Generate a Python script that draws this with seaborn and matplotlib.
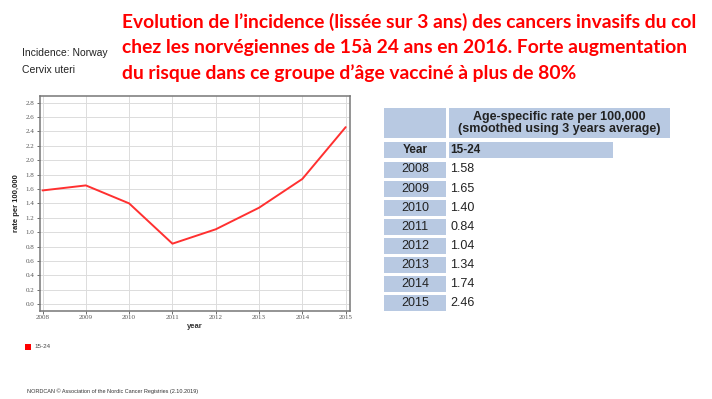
import matplotlib
matplotlib.use("Agg")
import matplotlib.pyplot as plt
import seaborn as sns
import pandas as pd
from matplotlib.patches import Rectangle

years = [2008, 2009, 2010, 2011, 2012, 2013, 2014, 2015]
rates = [1.58, 1.65, 1.40, 0.84, 1.04, 1.34, 1.74, 2.46]
yticks = [0.0, 0.2, 0.4, 0.6, 0.8, 1.0, 1.2, 1.4, 1.6, 1.8, 2.0, 2.2, 2.4, 2.6, 2.8]
series_name = "15-24"
title_lines = [
    "Evolution de l’incidence (lissée sur 3 ans) des cancers invasifs du col",
    "chez les norvégiennes de 15à 24 ans en 2016. Forte augmentation",
    "du risque dans ce groupe d’âge vacciné à plus de 80%",
]
table_header = "Age-specific rate per 100,000\n(smoothed using 3 years average)"

sns.set_theme(style="whitegrid")
plt.rcParams['font.family'] = ['Liberation Sans', 'DejaVu Sans']

W, H = 712, 399
fig = plt.figure(figsize=(W / 100, H / 100), dpi=100)
fig.patch.set_facecolor("white")

def fx(x):
    return x / W

def fy(y):
    return 1 - y / H

ax = fig.add_axes([fx(39.5), fy(310.5), fx(350) - fx(39.5), fy(96) - fy(310.5)])
df = pd.DataFrame({"year": years, "rate": rates, "group": series_name})
sns.lineplot(data=df, x="year", y="rate", color="#ff3030", linewidth=1.4, ax=ax, legend=False)
ax.set_xlim(2007.93, 2015.1)
ax.set_ylim(-0.089, 2.893)
ax.set_yticks(yticks)
ax.set_yticklabels([f"{v:.1f}" for v in yticks])
ax.set_xticks(years)
ax.set_xticklabels([str(y) for y in years])
ax.tick_params(axis="both", labelsize=5, colors="#555555", length=2, width=0.6, pad=1.5,
               left=True, bottom=True)
for lbl in ax.get_xticklabels() + ax.get_yticklabels():
    lbl.set_family(['Liberation Serif', 'DejaVu Serif'])
ax.grid(True, color="#dcdcdc", linewidth=0.7)
for s in ax.spines.values():
    s.set_color("#777777")
    s.set_linewidth(1.1)
ax.set_xlabel("year", fontsize=5.5, fontweight="bold", color="#333333", labelpad=2)
ax.set_ylabel("rate per 100,000", fontsize=5.5, fontweight="bold", color="#222222", labelpad=4)
ax.set_facecolor("white")

# Title in red, fitted so the first line spans ~578 px
title_texts = []
for i, line in enumerate(title_lines):
    t = fig.text(fx(122), fy(22 + i * 25.5), line, color="#ff0000", fontsize=15,
                 fontweight="bold", family=['Lato', 'DejaVu Sans'], va="center", ha="left")
    title_texts.append(t)
renderer = fig.canvas.get_renderer()
w0 = title_texts[0].get_window_extent(renderer).width
fs = 15 * 578.0 / w0
for t in title_texts:
    t.set_fontsize(fs)

fig.text(fx(22), fy(53), "Incidence: Norway", fontsize=7.5, color="#222222", va="center",
         family=['Liberation Sans Narrow', 'Liberation Sans', 'DejaVu Sans'])
fig.text(fx(22), fy(70), "Cervix uteri", fontsize=7.5, color="#222222", va="center",
         family=['Liberation Sans Narrow', 'Liberation Sans', 'DejaVu Sans'])

# Legend
fig.patches.append(Rectangle((fx(25), fy(350)), fx(6), fy(344) - fy(350), transform=fig.transFigure,
                             facecolor="#ff0000", edgecolor="none"))
fig.text(fx(34), fy(347), series_name, fontsize=4.5, color="#444444", va="center")

fig.text(fx(27), fy(391), "NORDCAN © Association of the Nordic Cancer Registries (2.10.2019)",
         fontsize=4, color="#333333", va="center")

# Table
fill = "#b8c9e2"
def cell(x0, y0, x1, y1):
    fig.patches.append(Rectangle((fx(x0), fy(y1)), fx(x1) - fx(x0), fy(y0) - fy(y1),
                                 transform=fig.transFigure, facecolor=fill, edgecolor="none"))

cell(384, 108, 446, 138)
cell(449, 108, 670, 138)
fig.text(fx(559), fy(123), table_header, fontsize=9, fontweight="bold", color="#222222",
         ha="center", va="center", linespacing=1.0)
cell(384, 142, 446, 158)
cell(449, 142, 613, 158)
fig.text(fx(415), fy(150), "Year", fontsize=8.5, fontweight="bold", color="#222222", ha="center", va="center")
fig.text(fx(450), fy(150), series_name, fontsize=8.5, fontweight="bold", color="#222222", ha="left", va="center")
for i, (yr, v) in enumerate(zip(years, rates)):
    yc = 169.5 + i * 19.1
    cell(384, yc - 8, 446, yc + 8)
    fig.text(fx(415), fy(yc), str(yr), fontsize=9, color="#222222", ha="center", va="center")
    fig.text(fx(450), fy(yc), f"{v:.2f}", fontsize=9, color="#222222", ha="left", va="center")

fig.savefig("out.png", dpi=100, facecolor="white")
